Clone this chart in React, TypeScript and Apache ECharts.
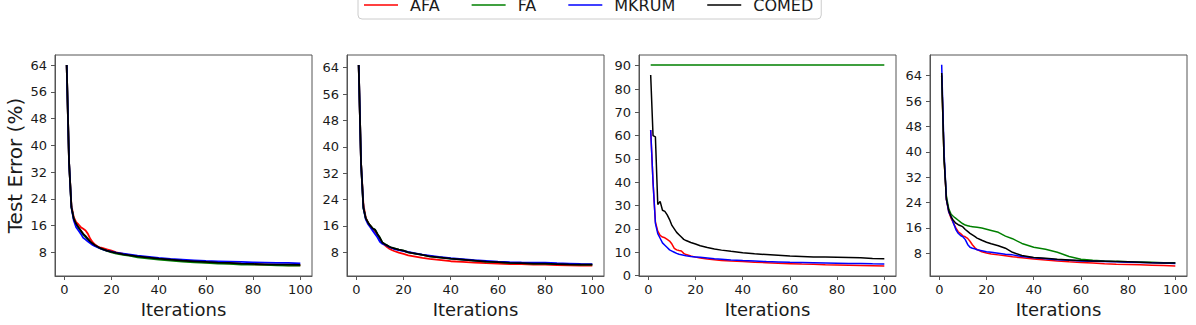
import React, { useEffect, useRef } from "react";
import * as echarts from "echarts";

const ITER = [1, 2, 3, 4, 5, 6, 7, 8, 9, 10, 11, 12, 13, 14, 15, 16, 18, 20, 22, 25, 28, 31, 35, 40, 45, 50, 55, 60, 65, 70, 75, 80, 85, 90, 95, 100];

const SERIES_NAMES = ["AFA", "FA", "MKRUM", "COMED"];
const SERIES_COLORS = ["#ff0000", "#008000", "#0000ff", "#000000"];

const X_TICKS = [0, 20, 40, 60, 80, 100];
const Y_TICKS_A = [8, 16, 24, 32, 40, 48, 56, 64];
const Y_TICKS_B = [0, 10, 20, 30, 40, 50, 60, 70, 80, 90];

// Panel 1
const P1_AFA = [64, 35, 22, 18.5, 17, 16.3, 15.5, 15, 14.5, 13.5, 12, 11, 10.3, 9.8, 9.5, 9.3, 8.9, 8.5, 8.0, 7.5, 7.1, 6.8, 6.4, 6.0, 5.7, 5.4, 5.2, 5.0, 4.8, 4.7, 4.5, 4.4, 4.3, 4.2, 4.1, 4.1];
const P1_FA = [64, 35, 21.5, 18, 16.3, 15.3, 14.3, 13.3, 12.5, 11.8, 11.0, 10.5, 10.0, 9.6, 9.2, 8.9, 8.4, 8.0, 7.6, 7.2, 6.9, 6.5, 6.2, 5.8, 5.5, 5.2, 5.0, 4.8, 4.6, 4.5, 4.3, 4.3, 4.2, 4.1, 4.0, 4.0];
const P1_MKRUM = [64, 35, 21.5, 17.5, 15.5, 14.5, 13.5, 12.3, 11.8, 11.2, 10.7, 10.2, 9.8, 9.5, 9.2, 8.9, 8.5, 8.2, 7.9, 7.6, 7.3, 7.0, 6.7, 6.3, 6.0, 5.8, 5.6, 5.4, 5.3, 5.2, 5.1, 5.0, 4.9, 4.8, 4.8, 4.7];
const P1_COMED = [64, 35, 21.5, 18, 16.5, 15.5, 14.5, 13.5, 12.8, 12, 11.2, 10.6, 10.1, 9.7, 9.3, 9.0, 8.5, 8.1, 7.8, 7.4, 7.1, 6.8, 6.5, 6.1, 5.8, 5.5, 5.3, 5.1, 4.9, 4.8, 4.6, 4.5, 4.4, 4.3, 4.3, 4.2];

// Panel 2
const P2_AFA = [64.8, 35, 22.5, 18.5, 17, 16, 15, 14.2, 13.2, 12.0, 10.8, 10.2, 9.6, 9.1, 8.7, 8.4, 7.9, 7.5, 7.1, 6.7, 6.3, 6.0, 5.7, 5.3, 5.1, 4.9, 4.7, 4.55, 4.45, 4.4, 4.3, 4.25, 4.15, 4.05, 4.0, 3.95];
const P2_FA = [64.8, 35, 21.5, 18.3, 17, 16, 15.2, 14.8, 13.5, 12.4, 11, 10.5, 10.1, 9.7, 9.4, 9.2, 8.8, 8.5, 8.0, 7.6, 7.2, 6.8, 6.5, 6.1, 5.8, 5.5, 5.2, 5.0, 4.8, 4.7, 4.6, 4.55, 4.45, 4.35, 4.3, 4.25];
const P2_MKRUM = [64.8, 35, 21.5, 18, 16.5, 15.5, 14.5, 13.5, 12.5, 11.2, 10.6, 10.3, 10.0, 9.6, 9.3, 9.0, 8.7, 8.4, 8.1, 7.7, 7.3, 7.0, 6.6, 6.2, 5.9, 5.6, 5.4, 5.2, 5.05, 4.95, 4.9, 4.85, 4.7, 4.6, 4.5, 4.45];
const P2_COMED = [64.8, 35, 21.5, 18.3, 17, 16, 15.2, 14.8, 13.5, 12.4, 11, 10.5, 10.1, 9.7, 9.4, 9.2, 8.8, 8.5, 8.0, 7.6, 7.2, 6.8, 6.5, 6.1, 5.8, 5.5, 5.2, 5.0, 4.8, 4.7, 4.6, 4.55, 4.45, 4.35, 4.3, 4.25];

// Panel 3
const P3_AFA = [62.4, 40, 23, 19, 17.2, 16.5, 16.2, 15.5, 14.8, 13.5, 11.7, 11.0, 10.7, 10.5, 9.5, 9.0, 8.4, 7.9, 7.5, 7.1, 6.8, 6.5, 6.2, 6.0, 5.7, 5.5, 5.3, 5.1, 4.9, 4.8, 4.6, 4.5, 4.4, 4.3, 4.2, 4.1];
const P3_FA = [90.3, 90.3, 90.3, 90.3, 90.3, 90.3, 90.3, 90.3, 90.3, 90.3, 90.3, 90.3, 90.3, 90.3, 90.3, 90.3, 90.3, 90.3, 90.3, 90.3, 90.3, 90.3, 90.3, 90.3, 90.3, 90.3, 90.3, 90.3, 90.3, 90.3, 90.3, 90.3, 90.3, 90.3, 90.3, 90.3];
const P3_MKRUM = [62.4, 40, 22.4, 18, 16, 14, 13, 12, 11, 10.5, 10, 9.5, 9.1, 8.9, 8.7, 8.5, 8.2, 8.0, 7.8, 7.5, 7.2, 7.0, 6.7, 6.4, 6.2, 6.0, 5.85, 5.7, 5.6, 5.5, 5.4, 5.3, 5.2, 5.15, 5.05, 5.0];
const P3_COMED = [86, 60, 59.5, 30.5, 31.8, 28, 27.5, 26, 24, 21.5, 20, 18.5, 17.5, 16.5, 15.5, 15, 14.2, 13.5, 12.8, 12, 11.4, 10.9, 10.4, 9.8, 9.3, 9.0, 8.7, 8.4, 8.2, 8.0, 7.9, 7.8, 7.7, 7.6, 7.3, 7.2];

// Panel 4
const P4_AFA = [64, 38, 25, 21, 19, 17.5, 16, 14.8, 14.2, 13.5, 13.2, 12.7, 11.8, 10.7, 9.8, 9.2, 8.5, 8.1, 7.8, 7.5, 7.2, 6.9, 6.6, 6.2, 5.9, 5.6, 5.3, 5.1, 4.9, 4.7, 4.55, 4.45, 4.35, 4.25, 4.15, 4.0];
const P4_FA = [64, 38, 26, 22, 20.3, 19.6, 19, 18.4, 17.8, 17.3, 16.9, 16.7, 16.5, 16.4, 16.3, 16.2, 16.0, 15.6, 15.2, 14.6, 13.4, 12.6, 11.1, 9.9, 9.3, 8.3, 7.0, 6.1, 5.8, 5.6, 5.45, 5.35, 5.25, 5.15, 5.05, 5.0];
const P4_MKRUM = [67.4, 40, 25, 21, 19.5, 17.5, 15.5, 14.3, 13.6, 13.2, 12.3, 10.8, 9.9, 9.6, 9.4, 9.1, 8.8, 8.5, 8.3, 8.0, 7.7, 7.5, 7.0, 6.6, 6.3, 6.0, 5.8, 5.6, 5.5, 5.4, 5.3, 5.2, 5.1, 5.0, 4.9, 4.8];
const P4_COMED = [64.8, 38, 25, 21.5, 19.5, 18.3, 17.5, 17, 16.7, 16.3, 15.5, 14.9, 14.3, 13.8, 13.3, 12.8, 12.1, 11.5, 11.0, 10.4, 9.6, 8.3, 7.3, 6.7, 6.4, 6.1, 5.9, 5.7, 5.6, 5.5, 5.4, 5.3, 5.2, 5.05, 4.95, 4.9];

const PANELS = [
  [P1_AFA, P1_FA, P1_MKRUM, P1_COMED],
  [P2_AFA, P2_FA, P2_MKRUM, P2_COMED],
  [P3_AFA, P3_FA, P3_MKRUM, P3_COMED],
  [P4_AFA, P4_FA, P4_MKRUM, P4_COMED],
];
const Y_RANGES = [
  [0.9, 67.0],
  [0.82, 67.85],
  [-0.2, 94.6],
  [0.84, 70.5],
];
const Y_TICKS = [Y_TICKS_A, Y_TICKS_A, Y_TICKS_B, Y_TICKS_A];
const GRID_LEFTS = [55, 347, 639, 930];

const FONT = "DejaVu Sans";
const AXIS_COLOR = "#555";
const TEXT_COLOR = "#1a1a1a";

export default function App() {
  const ref = useRef<HTMLDivElement>(null);
  useEffect(() => {
    if (!ref.current) return;
    const chart = echarts.init(ref.current, undefined, { renderer: "svg" });
    const grids = GRID_LEFTS.map((left) => ({
      left,
      top: 55,
      width: 257,
      height: 221,
      show: true,
      borderColor: AXIS_COLOR,
      borderWidth: 1,
      containLabel: false,
    }));
    const xAxes = GRID_LEFTS.map((_, i) => ({
      type: "value",
      gridIndex: i,
      min: -3.95,
      max: 104.95,
      name: "Iterations",
      nameLocation: "middle",
      nameGap: 21,
      nameTextStyle: { fontFamily: FONT, fontSize: 18, color: TEXT_COLOR },
      axisLine: { show: true, onZero: false, lineStyle: { color: AXIS_COLOR, width: 1 } },
      axisTick: { show: true, customValues: X_TICKS, length: 4, lineStyle: { color: AXIS_COLOR } },
      axisLabel: { customValues: X_TICKS, fontFamily: FONT, fontSize: 13, color: TEXT_COLOR, margin: 7 },
      splitLine: { show: false },
    }));
    const yAxes = GRID_LEFTS.map((_, i) => ({
      type: "value",
      gridIndex: i,
      min: Y_RANGES[i][0],
      max: Y_RANGES[i][1],
      name: i === 0 ? "Test Error (%)" : "",
      nameLocation: "middle",
      nameGap: 30,
      nameTextStyle: { fontFamily: FONT, fontSize: 20, color: TEXT_COLOR },
      axisLine: { show: true, onZero: false, lineStyle: { color: AXIS_COLOR, width: 1 } },
      axisTick: { show: true, customValues: Y_TICKS[i], length: 4, lineStyle: { color: AXIS_COLOR } },
      axisLabel: { customValues: Y_TICKS[i], fontFamily: FONT, fontSize: 13, color: TEXT_COLOR, margin: 8 },
      splitLine: { show: false },
    }));
    const series: any[] = [];
    PANELS.forEach((panel, p) => {
      panel.forEach((vals, s) => {
        series.push({
          type: "line",
          name: SERIES_NAMES[s],
          xAxisIndex: p,
          yAxisIndex: p,
          data: ITER.map((it, k) => [it, vals[k]]),
          symbol: "none",
          lineStyle: { color: SERIES_COLORS[s], width: p < 2 ? 1.8 : 1.5 },
          itemStyle: { color: SERIES_COLORS[s] },
          z: 2 + s,
        });
      });
    });
    chart.setOption({
      animation: false,
      backgroundColor: "#ffffff",
      legend: {
        data: SERIES_NAMES,
        icon: "rect",
        left: 358,
        top: -9,
        itemWidth: 34,
        itemHeight: 1.6,
        itemGap: 32,
        padding: [6, 8, 6, 6],
        borderColor: "#cccccc",
        borderWidth: 1,
        borderRadius: 4,
        textStyle: { fontFamily: FONT, fontSize: 16, color: TEXT_COLOR, padding: [0, 0, 0, 7] },
      },
      grid: grids,
      xAxis: xAxes,
      yAxis: yAxes,
      series,
    });
    return () => chart.dispose();
  }, []);
  return (
    <div
      ref={ref}
      style={{ position: "fixed", left: 0, top: 0, width: 1196, height: 325, background: "#fff" }}
    />
  );
}
